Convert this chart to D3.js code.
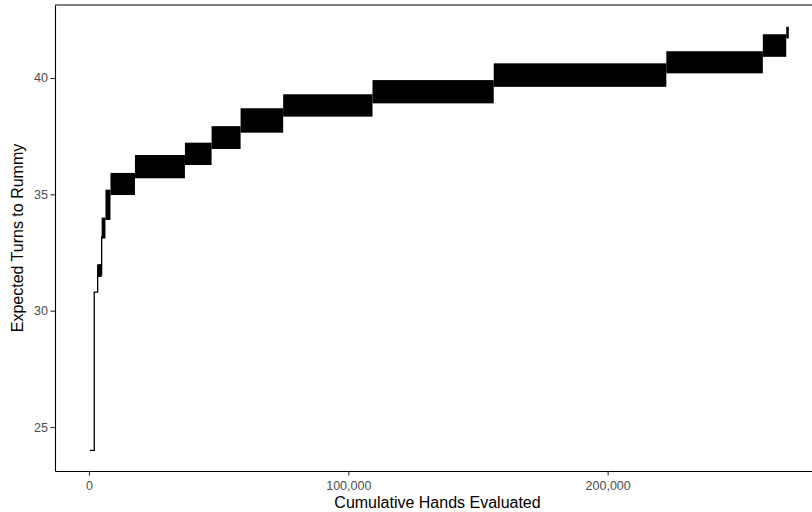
<!DOCTYPE html>
<html>
<head>
<meta charset="utf-8">
<script src="https://cdn.jsdelivr.net/npm/d3@7/dist/d3.min.js"></script>
<style>
  html, body { margin: 0; padding: 0; background: #fff; }
  svg { display: block; font-family: "Liberation Sans", Arial, sans-serif; }
</style>
</head>
<body>
<svg id="chart" width="812" height="512"></svg>
<script>
// Early climb: a single step trace (cumulative hands, expected turns)
const traceHands = [385, 2040, 2040, 3350, 3350, 4890, 4890];
const traceTurns = [24.0, 24.0, 30.8, 30.8, 31.9, 31.6, 33.2];

// Later stages: the estimate oscillates densely inside each band
const bandStart = [3350, 4890, 6360, 8290, 17730, 37000, 47280, 58460, 74880, 109330, 156070, 222620, 259840, 268860];
const bandEnd   = [4890, 6360, 8290, 17730, 37000, 47280, 58460, 74880, 109330, 156070, 222620, 259840, 268860, 269860];
const bandLow   = [31.45, 33.1, 33.9, 34.97, 35.69, 36.26, 36.95, 37.65, 38.34, 38.91, 39.62, 40.20, 40.91, 41.70];
const bandHigh  = [32.0, 34.0, 35.2, 35.92, 36.69, 37.22, 37.93, 38.70, 39.30, 39.91, 40.63, 41.15, 41.88, 42.20];

const xTicks = [0, 100000, 200000];
const yTicks = [25, 30, 35, 40];

const svg = d3.select("#chart");
const margin = { left: 55, right: 0, top: 5, bottom: 41 };
const W = 812, H = 512;

const x = d3.scaleLinear().domain([-13100, 278800]).range([margin.left, W - margin.right]);
const y = d3.scaleLinear().domain([23.11, 43.137]).range([H - margin.bottom, margin.top]);

const plot = svg.append("g");

// bands
const bands = bandStart.map((s, i) => ({ s, e: bandEnd[i], lo: bandLow[i], hi: bandHigh[i] }));
plot.selectAll("rect.band").data(bands).join("rect")
  .attr("class", "band")
  .attr("x", d => x(d.s))
  .attr("width", d => Math.max(1.5, x(d.e) - x(d.s)))
  .attr("y", d => y(d.hi))
  .attr("height", d => y(d.lo) - y(d.hi))
  .attr("fill", "#000");

// step trace
const trace = traceHands.map((h, i) => [h, traceTurns[i]]);
plot.append("path")
  .datum(trace)
  .attr("fill", "none")
  .attr("stroke", "#000")
  .attr("stroke-width", 1.3)
  .attr("d", d3.line().x(d => x(d[0])).y(d => y(d[1])));

// axes
const xAxis = d3.axisBottom(x).tickValues(xTicks).tickFormat(d3.format(",")).tickSize(4.5).tickSizeOuter(0);
const yAxis = d3.axisLeft(y).tickValues(yTicks).tickSize(4.5).tickSizeOuter(0);

const gx = svg.append("g").attr("transform", `translate(0,${H - margin.bottom})`).call(xAxis);
const gy = svg.append("g").attr("transform", `translate(${margin.left},0)`).call(yAxis);

[gx, gy].forEach(g => {
  g.select(".domain").attr("stroke", "#000").attr("stroke-width", 1.1);
  g.selectAll(".tick line").attr("stroke", "#333").attr("stroke-width", 1.1);
  g.selectAll(".tick text").attr("fill", "#4d4d4d").attr("font-size", "12.5px")
    .attr("font-family", "Liberation Sans, Arial, sans-serif");
});
gx.selectAll(".tick text").attr("dy", "0.95em").attr("y", 7);
gy.selectAll(".tick text").attr("x", -7);

// top frame line
svg.append("line")
  .attr("x1", margin.left).attr("x2", W)
  .attr("y1", margin.top).attr("y2", margin.top)
  .attr("stroke", "#000").attr("stroke-width", 1.1);

// titles
svg.append("text")
  .attr("x", (margin.left + W) / 2 + 4).attr("y", 508)
  .attr("text-anchor", "middle").attr("font-size", "16px").attr("fill", "#000")
  .text("Cumulative Hands Evaluated");

svg.append("text")
  .attr("transform", `translate(23,${(margin.top + H - margin.bottom) / 2}) rotate(-90)`)
  .attr("text-anchor", "middle").attr("font-size", "16px").attr("fill", "#000")
  .text("Expected Turns to Rummy");
</script>
</body>
</html>
